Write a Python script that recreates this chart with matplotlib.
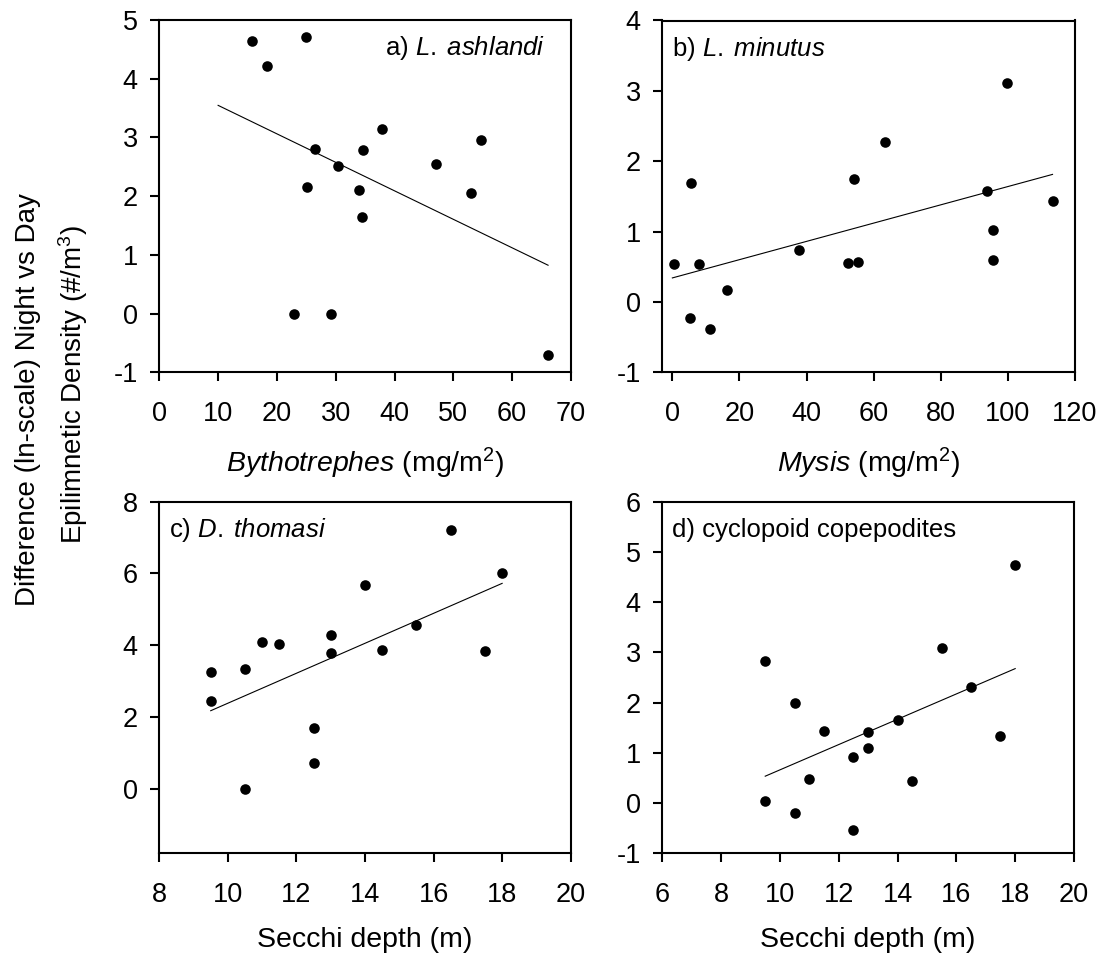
import numpy as np
import matplotlib
matplotlib.use("Agg")
import matplotlib.pyplot as plt

plt.rcParams['font.family'] = ['Liberation Sans', 'DejaVu Sans']
plt.rcParams['mathtext.fontset'] = 'custom'
plt.rcParams['mathtext.rm'] = 'Liberation Sans'
plt.rcParams['mathtext.it'] = 'Liberation Sans:italic'

# ---- data ----
a_x = [15.7, 24.9, 18.3, 26.5, 30.4, 25.1, 34.0, 34.6, 34.4, 37.8, 47.0, 53.0, 54.7, 22.9, 29.2, 66.1]
a_y = [4.65, 4.71, 4.22, 2.80, 2.52, 2.15, 2.11, 2.78, 1.65, 3.15, 2.55, 2.05, 2.96, 0.00, 0.00, -0.71]

b_x = [0.4, 5.7, 7.8, 5.2, 11.3, 16.4, 37.7, 52.3, 55.2, 54.2, 63.4, 93.7, 95.6, 95.6, 99.8, 113.3]
b_y = [0.54, 1.69, 0.54, -0.23, -0.38, 0.17, 0.74, 0.55, 0.57, 1.75, 2.27, 1.57, 1.02, 0.60, 3.11, 1.44]

c_x = [9.5, 9.5, 10.5, 10.5, 11.0, 11.5, 12.5, 12.5, 13.0, 13.0, 14.0, 14.5, 15.5, 16.5, 17.5, 18.0]
c_y = [3.26, 2.45, 3.33, 0.00, 4.09, 4.04, 1.69, 0.72, 4.29, 3.77, 5.67, 3.87, 4.55, 7.22, 3.83, 6.02]

d_x = [9.5, 9.5, 10.5, 10.5, 11.0, 11.5, 12.5, 12.5, 13.0, 13.0, 14.0, 14.5, 15.5, 16.5, 17.5, 18.0]
d_y = [2.82, 0.05, 1.99, -0.19, 0.48, 1.44, 0.91, -0.54, 1.42, 1.09, 1.66, 0.43, 3.09, 2.32, 1.34, 4.74]

fit_start = [10.0, 0.0, 9.5, 9.5]

panel_labels = [r"a) $\it{L.\;ashlandi}$", r"b) $\it{L.\;minutus}$",
                r"c) $\it{D.\;thomasi}$", "d) cyclopoid copepodites"]
xlabels = [r"$\it{Bythotrephes}$ (mg/m$^{2}$)", r"$\it{Mysis}$ (mg/m$^{2}$)",
           "Secchi depth (m)", "Secchi depth (m)"]
xlims = [(0, 70), (-3, 120), (8, 20), (6, 20)]
ylims = [(-1, 5), (-1, 4), (-1.8, 8), (-1, 6)]
xticks = [np.arange(0, 71, 10), np.arange(0, 121, 20), np.arange(8, 21, 2), np.arange(6, 21, 2)]
yticks = [np.arange(-1, 6, 1), np.arange(-1, 5, 1), np.arange(0, 9, 2), np.arange(-1, 7, 1)]

W, H = 1106, 961
fig = plt.figure(figsize=(W / 100, H / 100), dpi=100)

rects = [(159.3, 20, 571, 372.3), (662.3, 20.5, 1075, 372.3),
         (159.3, 501.7, 570.7, 853.3), (662.3, 501.7, 1074, 853.3)]

xs = [a_x, b_x, c_x, d_x]
ys = [a_y, b_y, c_y, d_y]

for i, (l, t, r, b) in enumerate(rects):
    ax = fig.add_axes([l / W, 1 - b / H, (r - l) / W, (b - t) / H])
    x = np.array(xs[i]); y = np.array(ys[i])
    ax.scatter(x, y, s=58, color='black', zorder=3, clip_on=False, linewidths=0)
    k, c0 = np.polyfit(x, y, 1)
    lx = np.array([fit_start[i], x.max()])
    ax.plot(lx, k * lx + c0, color='black', lw=0.8)
    ax.set_xlim(*xlims[i]); ax.set_ylim(*ylims[i])
    ax.set_xticks(xticks[i]); ax.set_yticks(yticks[i])
    ax.set_yticklabels([f"{v:g}" for v in yticks[i]])
    for s in ax.spines.values():
        s.set_linewidth(1.5)
    ax.tick_params(direction='out', length=6.5, width=1.5, labelsize=19.5)
    ax.tick_params(axis='x', pad=14)
    ax.tick_params(axis='y', pad=9)
    ax.set_xlabel(xlabels[i], fontsize=20.5, labelpad=14)
    if i == 0:
        ax.text(0.937, 0.90, panel_labels[i], transform=ax.transAxes, ha='right', va='baseline', fontsize=18.5)
    else:
        ax.text(0.024, 0.90, panel_labels[i], transform=ax.transAxes, ha='left', va='baseline', fontsize=18.5)

fig.text(28 / W, 1 - 400 / H, "Difference (ln-scale) Night vs Day", rotation=90,
         ha='center', va='center', fontsize=20)
fig.text(73 / W, 1 - 384 / H, r"Epilimnetic Density (#/m$^{3}$)", rotation=90,
         ha='center', va='center', fontsize=20)

fig.savefig("out.png", dpi=100)
